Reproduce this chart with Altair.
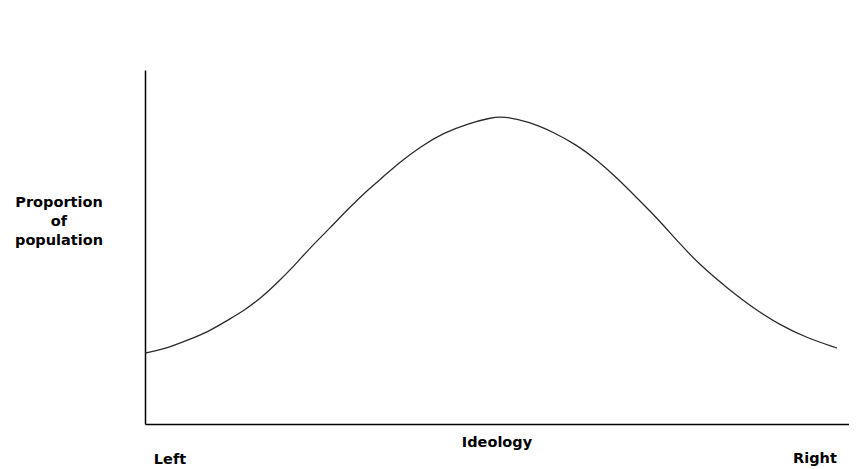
import altair as alt
import pandas as pd

# Ideology position (0 = Left, 704 = Right) and proportion of population
ideology = [0, 20, 43, 63, 83, 100, 117, 133, 150, 163, 185, 205, 225, 238, 255, 275, 298, 325,
            345, 358, 385, 408, 432, 452, 472, 492, 512, 535, 555, 582, 608, 635, 662, 692]
proportion = [71, 75, 84, 92, 104, 114, 127, 142, 159, 174, 196, 217, 236, 247, 262, 277, 291, 301,
              306, 308, 302, 292, 279, 264, 246, 226, 206, 180, 159, 136, 116, 99, 86, 76]

y_title_lines = ["Proportion", "of", "population"]
x_title = "Ideology"
left_label = "Left"
right_label = "Right"

df = pd.DataFrame({"ideology": ideology, "proportion": proportion})

W, H = 704, 354
FONT = "DejaVu Sans"
FS = 14.5

curve = alt.Chart(df).mark_line(color="#2a2a2a", strokeWidth=1.3, interpolate="basis").encode(
    x=alt.X("ideology:Q", scale=alt.Scale(domain=[0, 704], nice=False),
            axis=alt.Axis(title=None, labels=False, ticks=False, grid=False,
                          domainColor="black", domainWidth=1.5)),
    y=alt.Y("proportion:Q", scale=alt.Scale(domain=[0, 354], nice=False),
            axis=alt.Axis(title=None, labels=False, ticks=False, grid=False,
                          domainColor="black", domainWidth=1.5)),
)

def label(text, x, y):
    return alt.Chart(pd.DataFrame({"t": [text]})).mark_text(
        font=FONT, fontWeight="bold", fontSize=FS, color="black", align="center", baseline="middle"
    ).encode(text="t:N", x=alt.value(x), y=alt.value(y))

ytitle = alt.Chart(pd.DataFrame({"t": [y_title_lines]})).mark_text(
    font=FONT, fontWeight="bold", fontSize=FS, color="black", align="center",
    baseline="middle", lineHeight=19
).encode(text="t", x=alt.value(59 - 145), y=alt.value(203 - 70))

chart = alt.layer(
    curve,
    ytitle,
    label(x_title, 497 - 145, 443 - 70),
    label(left_label, 170 - 145, 460 - 70),
    label(right_label, 815 - 145, 459 - 70),
).properties(
    width=W, height=H,
    background="white",
    autosize=alt.AutoSizeParams(type="none"),
    padding={"left": 137, "top": 62, "right": 0, "bottom": 48},
).configure_view(stroke=None)

chart.save("out.html", embed_options={"renderer": "svg", "actions": False})
